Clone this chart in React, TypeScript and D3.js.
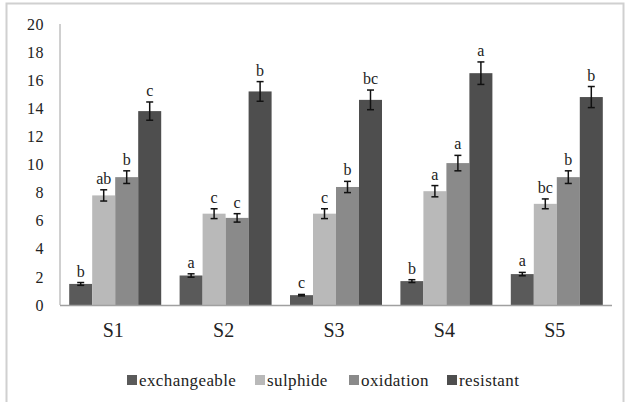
import React, { useEffect, useRef } from 'react';
import * as d3 from 'd3';

const sites = ['S1', 'S2', 'S3', 'S4', 'S5'];
const fractions = ['exchangeable', 'sulphide', 'oxidation', 'resistant'];
const fractionColors = ['#5a5a5a', '#b9b9b9', '#8a8a8a', '#4e4e4e'];

// values per site, in fraction order
const exchangeable = [1.5, 2.1, 0.7, 1.7, 2.2];
const sulphide = [7.8, 6.5, 6.5, 8.1, 7.2];
const oxidation = [9.1, 6.2, 8.4, 10.1, 9.1];
const resistant = [13.8, 15.2, 14.6, 16.5, 14.8];

const errExchangeable = [0.1, 0.12, 0.05, 0.1, 0.12];
const errSulphide = [0.4, 0.35, 0.35, 0.4, 0.35];
const errOxidation = [0.45, 0.3, 0.4, 0.55, 0.45];
const errResistant = [0.65, 0.7, 0.7, 0.8, 0.75];

const lettersExchangeable = ['b', 'a', 'c', 'b', 'a'];
const lettersSulphide = ['ab', 'c', 'c', 'a', 'bc'];
const lettersOxidation = ['b', 'c', 'b', 'a', 'b'];
const lettersResistant = ['c', 'b', 'bc', 'a', 'b'];

const yTicks = [0, 2, 4, 6, 8, 10, 12, 14, 16, 18, 20];

const App = () => {
  const svgRef = useRef(null);

  useEffect(() => {
    const svg = d3.select(svgRef.current);
    svg.selectAll('*').remove();
    const font = "'Liberation Serif', 'Times New Roman', 'DejaVu Serif', serif";

    const values = [exchangeable, sulphide, oxidation, resistant];
    const errs = [errExchangeable, errSulphide, errOxidation, errResistant];
    const letters = [lettersExchangeable, lettersSulphide, lettersOxidation, lettersResistant];

    const left = 60, right = 612, top = 24, bottom = 305;

    // 外框
    svg.append('rect')
      .attr('x', 6.5).attr('y', 3.5)
      .attr('width', 617).attr('height', 410)
      .attr('fill', 'white')
      .attr('stroke', '#d0d0d0')
      .attr('stroke-width', 2);

    const x0 = d3.scaleBand().domain(sites).range([left, right]);
    const gap = x0.bandwidth() / 12;
    const x1 = d3.scaleBand().domain(fractions).range([gap, x0.bandwidth() - gap]);
    const y = d3.scaleLinear().domain([0, 20]).range([bottom, top]);

    // y轴
    svg.append('line')
      .attr('x1', left).attr('x2', left)
      .attr('y1', top).attr('y2', bottom)
      .attr('stroke', '#a0a0a0').attr('stroke-width', 1);

    svg.append('g')
      .selectAll('text')
      .data(yTicks)
      .join('text')
      .attr('x', 44)
      .attr('y', d => y(d))
      .attr('dy', '0.35em')
      .attr('text-anchor', 'end')
      .style('font-family', font)
      .attr('font-size', 16)
      .attr('letter-spacing', 0.5)
      .attr('fill', '#222')
      .text(d => d);

    // 柱子
    fractions.forEach((f, fi) => {
      const g = svg.append('g');
      sites.forEach((s, si) => {
        const v = values[fi][si];
        const e = errs[fi][si];
        const bx = x0(s) + x1(f);
        const bw = x1.bandwidth();
        g.append('rect')
          .attr('x', bx).attr('y', y(v))
          .attr('width', bw).attr('height', y(0) - y(v))
          .attr('fill', fractionColors[fi]);
        const cx = bx + bw / 2;
        g.append('line')
          .attr('x1', cx).attr('x2', cx)
          .attr('y1', y(v + e)).attr('y2', y(v - e))
          .attr('stroke', '#111').attr('stroke-width', 1.5);
        [v + e, v - e].forEach(t => {
          g.append('line')
            .attr('x1', cx - 3.5).attr('x2', cx + 3.5)
            .attr('y1', y(t)).attr('y2', y(t))
            .attr('stroke', '#111').attr('stroke-width', 1.5);
        });
        g.append('text')
          .attr('x', cx)
          .attr('y', y(v + e) - 6)
          .attr('text-anchor', 'middle')
          .style('font-family', font)
          .attr('font-size', 16)
          .attr('fill', '#222')
          .text(letters[fi][si]);
      });
    });

    // x轴
    svg.append('line')
      .attr('x1', left).attr('x2', right)
      .attr('y1', bottom + 0.5).attr('y2', bottom + 0.5)
      .attr('stroke', '#a0a0a0').attr('stroke-width', 1.5);

    svg.append('g')
      .selectAll('text')
      .data(sites)
      .join('text')
      .attr('x', d => x0(d) + x0.bandwidth() / 2 - 2)
      .attr('y', 337)
      .attr('text-anchor', 'middle')
      .style('font-family', font)
      .attr('font-size', 20)
      .attr('fill', '#222')
      .text(d => d);

    // 图例
    const legendX = [127, 255, 349, 447];
    const legend = svg.append('g');
    fractions.forEach((f, i) => {
      legend.append('rect')
        .attr('x', legendX[i]).attr('y', 375)
        .attr('width', 10).attr('height', 10)
        .attr('fill', fractionColors[i]);
      legend.append('text')
        .attr('x', legendX[i] + 12)
        .attr('y', 380)
        .attr('dy', '0.35em')
        .style('font-family', font)
        .attr('font-size', 17)
        .attr('letter-spacing', 0.4)
        .attr('fill', '#222')
        .text(f);
    });
  }, []);

  return (
    <svg ref={svgRef} width={626} height={402} style={{ position: 'absolute', left: 0, top: 0 }} />
  );
};

export default App;
